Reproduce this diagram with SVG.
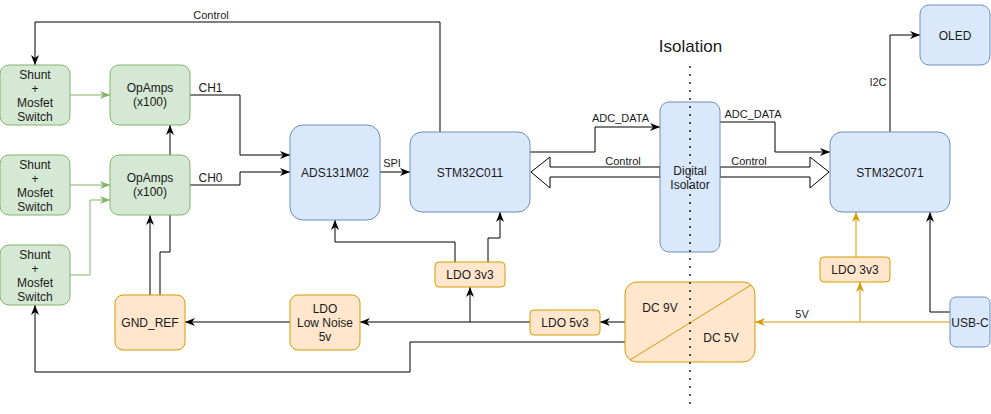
<svg xmlns="http://www.w3.org/2000/svg" width="991" height="414" viewBox="0 0 991 414">
<style>
.g{fill:#d5e8d4;stroke:#82b366;stroke-width:1}
.b{fill:#dae8fc;stroke:#6c8ebf;stroke-width:1}
.o{fill:#ffe6cc;stroke:#d79b00;stroke-width:1}
.t{font-family:"Liberation Sans",Arial,sans-serif;font-size:12px;fill:#1a1a1a;text-anchor:middle}
.e{font-family:"Liberation Sans",Arial,sans-serif;font-size:11px;fill:#1a1a1a;text-anchor:middle}
.k{fill:none;stroke:#000;stroke-width:1}
.gl{fill:none;stroke:#82b366;stroke-width:1}
.yl{fill:none;stroke:#d79b00;stroke-width:1}
.wa{fill:#fff;stroke:#000;stroke-width:1}
</style>
<defs>
<marker id="ak" markerUnits="userSpaceOnUse" markerWidth="10" markerHeight="8" refX="10" refY="4" orient="auto"><path d="M0,0 L10,4 L0,8 L3,4 Z" fill="#000"/></marker>
<marker id="ag" markerUnits="userSpaceOnUse" markerWidth="10" markerHeight="8" refX="10" refY="4" orient="auto"><path d="M0,0 L10,4 L0,8 L3,4 Z" fill="#82b366"/></marker>
<marker id="ay" markerUnits="userSpaceOnUse" markerWidth="10" markerHeight="8" refX="10" refY="4" orient="auto"><path d="M0,0 L10,4 L0,8 L3,4 Z" fill="#d79b00"/></marker>
</defs>
<rect width="991" height="414" fill="#fff"/>
<g id="connectors">
<!-- green -->
<path class="gl" d="M70,95 H110" marker-end="url(#ag)"/>
<path class="gl" d="M70,185 H110" marker-end="url(#ag)"/>
<path class="gl" d="M70,275 H90 V200 H110" marker-end="url(#ag)"/>
<!-- opamps -->
<path class="k" d="M170,155 V125" marker-end="url(#ak)"/>
<path class="k" d="M190,95 H240 V155 H290" marker-end="url(#ak)"/>
<path class="k" d="M190,185 H240 V172 H290" marker-end="url(#ak)"/>
<text class="t" x="210.5" y="92">CH1</text>
<text class="t" x="210.5" y="182">CH0</text>
<!-- SPI -->
<path class="k" d="M380,172 H410" marker-end="url(#ak)"/>
<text class="e" x="392" y="167">SPI</text>
<!-- Control top -->
<path class="k" d="M440,132 V22 H35 V65" marker-end="url(#ak)"/>
<text class="e" x="211" y="19">Control</text>
<!-- ADC_DATA left -->
<path class="k" d="M530,152 H595 V127 H660" marker-end="url(#ak)"/>
<text class="e" x="620.5" y="122">ADC_DATA</text>
<!-- wide control left -->
<polygon class="wa" points="660,167 550,167 550,157 531,172 550,188 550,177 660,177"/>
<text class="e" x="623" y="165">Control</text>
<!-- ADC_DATA right -->
<path class="k" d="M720,122 H775 V152 H830" marker-end="url(#ak)"/>
<text class="e" x="753" y="118">ADC_DATA</text>
<!-- wide control right -->
<polygon class="wa" points="720,167 810,167 810,157 829,172 810,188 810,177 720,177"/>
<text class="e" x="749" y="165">Control</text>
<!-- I2C -->
<path class="k" d="M890,132 V35 H920" marker-end="url(#ak)"/>
<text class="e" x="878" y="86">I2C</text>
<!-- right power -->
<path class="yl" d="M856,257 V212" marker-end="url(#ay)"/>
<path class="yl" d="M950,322 H755" marker-end="url(#ay)"/>
<path class="yl" d="M860,322 V282" marker-end="url(#ay)"/>
<text class="e" x="802" y="318">5V</text>
<path class="k" d="M950,312 H930 V212" marker-end="url(#ak)"/>
<!-- left power -->
<path class="k" d="M625,322 H600" marker-end="url(#ak)"/>
<path class="k" d="M530,322 H360" marker-end="url(#ak)"/>
<path class="k" d="M470,322 V287" marker-end="url(#ak)"/>
<path class="k" d="M290,322 H185" marker-end="url(#ak)"/>
<path class="k" d="M455,262 V242 H335 V220" marker-end="url(#ak)"/>
<path class="k" d="M488,262 V238 H500 V212" marker-end="url(#ak)"/>
<path class="k" d="M150,295 V215" marker-end="url(#ak)"/>
<path class="k" d="M160,295 V252 H170 V215"/>
<path class="k" d="M625,342 H410 V372 H35 V305" marker-end="url(#ak)"/>
</g>
<g id="shunt1"><rect class="g" x="0" y="65" width="70" height="60" rx="9"/><text class="t" x="35" y="79">Shunt</text><text class="t" x="35" y="93">+</text><text class="t" x="35" y="107">Mosfet</text><text class="t" x="35" y="121">Switch</text></g>
<g id="shunt2"><rect class="g" x="0" y="155" width="70" height="60" rx="9"/><text class="t" x="35" y="169">Shunt</text><text class="t" x="35" y="183">+</text><text class="t" x="35" y="197">Mosfet</text><text class="t" x="35" y="211">Switch</text></g>
<g id="shunt3"><rect class="g" x="0" y="245" width="70" height="60" rx="9"/><text class="t" x="35" y="259">Shunt</text><text class="t" x="35" y="273">+</text><text class="t" x="35" y="287">Mosfet</text><text class="t" x="35" y="301">Switch</text></g>
<g id="opamps1"><rect class="g" x="110" y="65" width="80" height="60" rx="9"/><text class="t" x="150" y="92">OpAmps</text><text class="t" x="150" y="106">(x100)</text></g>
<g id="opamps2"><rect class="g" x="110" y="155" width="80" height="60" rx="9"/><text class="t" x="150" y="182">OpAmps</text><text class="t" x="150" y="196">(x100)</text></g>
<g id="ads"><rect class="b" x="290" y="125" width="90" height="95" rx="13"/><text class="t" x="335" y="176.5">ADS131M02</text></g>
<g id="stm32c011"><rect class="b" x="410" y="132" width="120" height="80" rx="12"/><text class="t" x="470" y="176.5">STM32C011</text></g>
<g id="isolator"><rect class="b" x="660" y="102" width="60" height="150" rx="9"/><text class="t" x="690" y="175">Digital</text><text class="t" x="690" y="189">Isolator</text></g>
<g id="stm32c071"><rect class="b" x="830" y="132" width="120" height="80" rx="12"/><text class="t" x="890" y="176.5">STM32C071</text></g>
<g id="oled"><rect class="b" x="920" y="5" width="70" height="60" rx="9"/><text class="t" x="955" y="39.5">OLED</text></g>
<g id="usbc"><rect class="b" x="950" y="297" width="40" height="50" rx="6"/><text class="t" x="970" y="326.5">USB-C</text></g>
<g id="ldo3v3r"><rect class="o" x="820" y="257" width="70" height="25" rx="4"/><text class="t" x="855" y="274">LDO 3v3</text></g>
<g id="ldo3v3l"><rect class="o" x="435" y="262" width="70" height="25" rx="4"/><text class="t" x="470" y="279">LDO 3v3</text></g>
<g id="ldo5v3"><rect class="o" x="530" y="310" width="70" height="25" rx="4"/><text class="t" x="565" y="327">LDO 5v3</text></g>
<g id="ldolownoise"><rect class="o" x="290" y="295" width="70" height="55" rx="8"/><text class="t" x="325" y="313">LDO</text><text class="t" x="325" y="327">Low Noise</text><text class="t" x="325" y="341">5v</text></g>
<g id="gndref"><rect class="o" x="115" y="295" width="70" height="55" rx="8"/><text class="t" x="150" y="327">GND_REF</text></g>
<g id="dcdc"><rect class="o" x="625" y="282" width="130" height="80" rx="12"/><path d="M630,360 L751,285" stroke="#d79b00" stroke-width="1" fill="none"/><text class="t" x="660" y="312">DC 9V</text><text class="t" x="721" y="342">DC 5V</text></g>
<g id="isolation">
<text x="690.5" y="52" font-family="'Liberation Sans',Arial,sans-serif" font-size="17" fill="#1a1a1a" text-anchor="middle">Isolation</text>
<line x1="690" y1="67" x2="690" y2="411" stroke="#1a1a1a" stroke-width="2" stroke-linecap="round" stroke-dasharray="0 8"/>
</g>
</svg>
